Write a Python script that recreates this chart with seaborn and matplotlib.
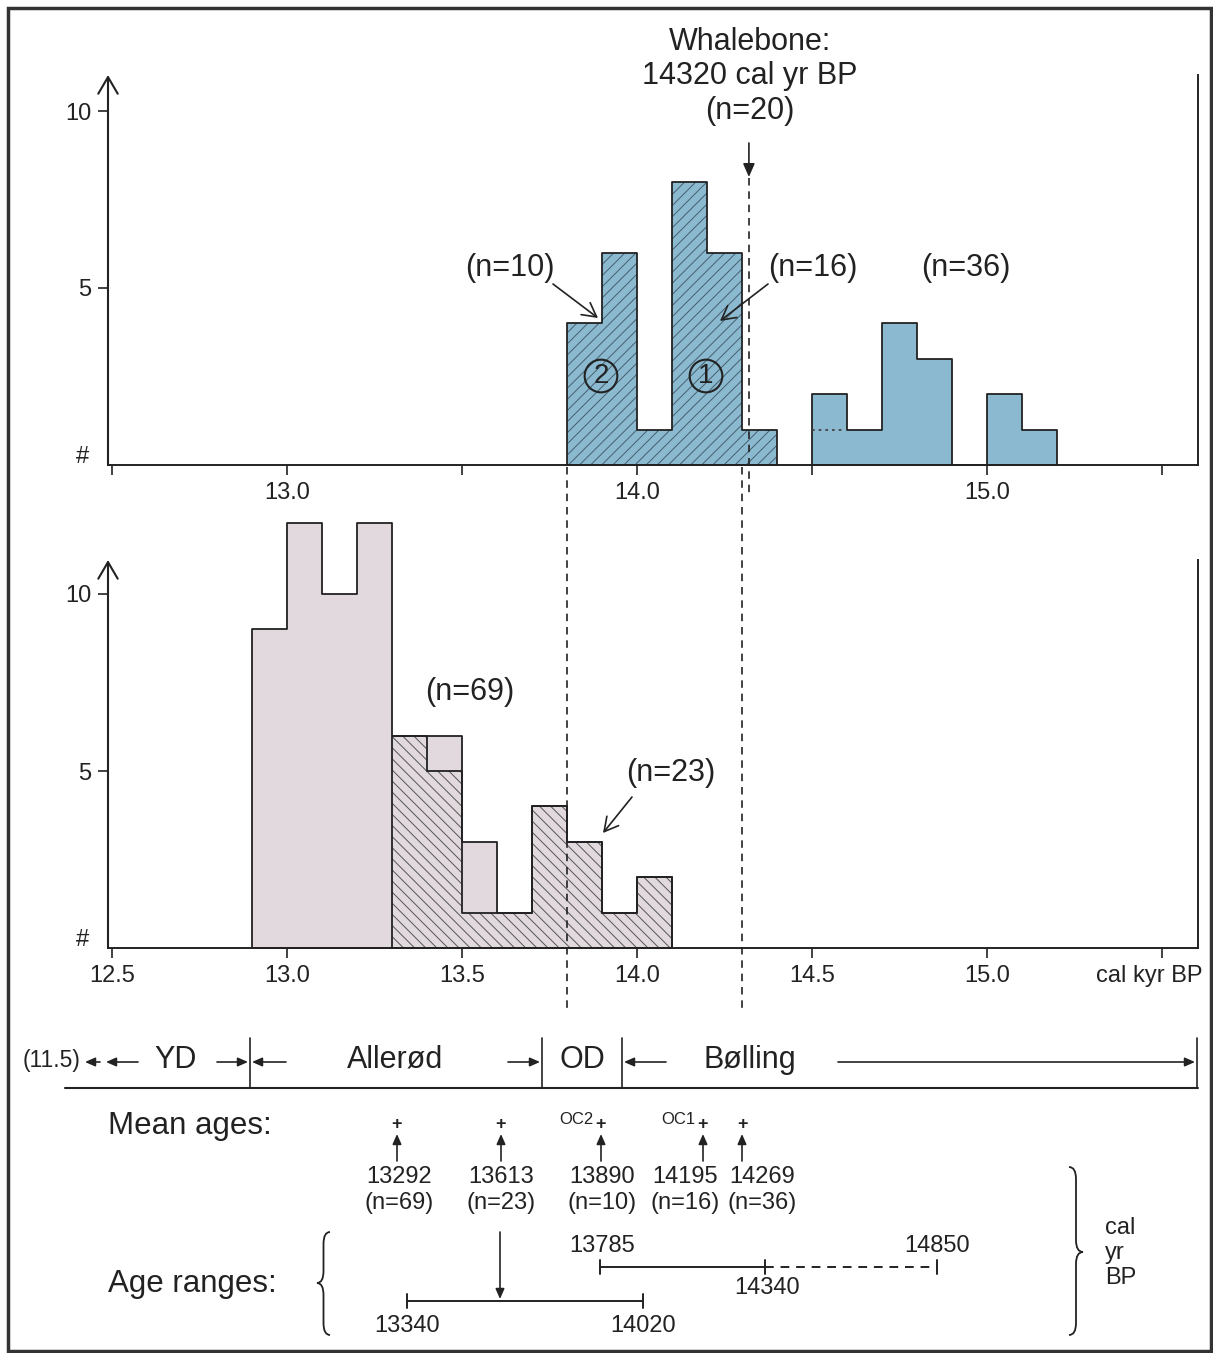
import numpy as np
import pandas as pd
import matplotlib
matplotlib.use("Agg")
import matplotlib.pyplot as plt
import seaborn as sns
from matplotlib.path import Path
from matplotlib.patches import PathPatch, Rectangle
from matplotlib.transforms import blended_transform_factory

# ---------------- data ----------------
top_cluster_edges = [13.8, 13.9, 14.0, 14.1, 14.2, 14.3, 14.4]
top_cluster_counts = [4, 6, 1, 8, 6, 1]
top_other_edges = [14.5, 14.6, 14.7, 14.8, 14.9, 15.0, 15.1, 15.2]
top_other_counts = [2, 1, 4, 3, 0, 2, 1]
top_other_dotted_level = 1

bottom_all_edges = [12.9, 13.0, 13.1, 13.2, 13.3, 13.4, 13.5, 13.6, 13.7, 13.8, 13.9, 14.0, 14.1]
bottom_all_counts = [9, 12, 10, 12, 6, 6, 3, 1, 4, 3, 1, 2]
bottom_sub_edges = [13.3, 13.4, 13.5, 13.6, 13.7, 13.8, 13.9, 14.0, 14.1]
bottom_sub_counts = [6, 5, 1, 1, 4, 3, 1, 2]

x_ticks = [12.5, 13.0, 13.5, 14.0, 14.5, 15.0, 15.5]
top_tick_labels = ["", "13.0", "", "14.0", "", "15.0", ""]
bottom_tick_labels = ["12.5", "13.0", "13.5", "14.0", "14.5", "15.0", ""]
y_ticks = [5, 10]
y_tick_labels = ["5", "10"]

cluster_bounds = [13.8, 14.3]
whalebone_age = 14.32

mean_ages = ["13292", "13613", "13890", "14195", "14269"]
mean_ns = ["(n=69)", "(n=23)", "(n=10)", "(n=16)", "(n=36)"]
mean_tags = ["", "", "OC2", "OC1", ""]
range_a_labels = ["13340", "14020"]
range_b_labels = ["13785", "14340", "14850"]
period_names = ["YD", "Allerød", "OD", "Bølling"]

# ---------------- style ----------------
W, H = 1213, 1353
sns.set_style("ticks")
plt.rcParams["font.family"] = ["Liberation Sans", "DejaVu Sans"]
plt.rcParams["hatch.linewidth"] = 0.7
INK = "#222222"
BLUE = "#8bb9d0"
PINK = "#e1d9de"

fig = plt.figure(figsize=(W / 100, H / 100), dpi=100)
fig.patch.set_facecolor("white")

XL = (12.489, 15.603)
PX = 35.4  # pixels per count

ax_top = fig.add_axes([108 / W, (H - 465) / H, 1090 / W, 390 / H])
ax_bot = fig.add_axes([108 / W, (H - 948) / H, 1090 / W, 388 / H])


def hist_layer(ax, edges, counts, face, edge, lw, hatch=None):
    edges = [float(e) for e in edges]
    centers = [round((a + b) / 2, 3) for a, b in zip(edges[:-1], edges[1:])]
    df = pd.DataFrame({"age": centers, "n": [float(c) for c in counts]})
    kws = dict(facecolor=face, edgecolor=edge, linewidth=lw)
    if hatch:
        kws["hatch"] = hatch
    sns.histplot(data=df, x="age", weights="n", bins=edges, element="step",
                 fill=True, color=edge, ax=ax, **kws)


# top panel
hist_layer(ax_top, top_cluster_edges, top_cluster_counts, BLUE, "#45606e", 0, "///")
hist_layer(ax_top, top_other_edges, top_other_counts, BLUE, BLUE, 0)
hist_layer(ax_top, top_cluster_edges, top_cluster_counts, "none", INK, 1.3)
hist_layer(ax_top, top_other_edges, top_other_counts, "none", INK, 1.3)
ax_top.hlines(top_other_dotted_level, top_other_edges[0], top_other_edges[1] - 0.01,
              colors="#444444", linestyles=(0, (1.5, 2.2)), lw=1.3)

# bottom panel
hist_layer(ax_bot, bottom_all_edges, bottom_all_counts, PINK, PINK, 0)
hist_layer(ax_bot, bottom_sub_edges, bottom_sub_counts, PINK, "#555555", 0, "\\\\\\")
hist_layer(ax_bot, bottom_all_edges, bottom_all_counts, "none", INK, 1.3)
hist_layer(ax_bot, bottom_sub_edges, bottom_sub_counts, "none", INK, 1.3)

for ax, labels, h in [(ax_top, top_tick_labels, 390), (ax_bot, bottom_tick_labels, 388)]:
    for art in ax.collections:
        art.set_clip_on(False)
    ax.set_xlim(*XL)
    ax.set_ylim(0, h / PX)
    ax.set_xticks(x_ticks)
    ax.set_xticklabels(labels)
    ax.set_yticks(y_ticks)
    ax.set_yticklabels(y_tick_labels)
    ax.set_xlabel("")
    ax.set_ylabel("")
    ax.tick_params(axis="both", direction="out", length=7, width=1.2,
                   colors=INK, labelsize=17, pad=5)
    ax.spines["top"].set_visible(False)
    ax.spines["left"].set_visible(False)
    for s in ("bottom", "right"):
        ax.spines[s].set_linewidth(1.4)
        ax.spines[s].set_color(INK)
    ax.patch.set_alpha(0)
    ax.annotate("", xy=(0, 1.0), xytext=(0, 0), xycoords="axes fraction",
                textcoords="axes fraction",
                arrowprops=dict(arrowstyle="->,head_length=0.6,head_width=0.35",
                                lw=1.5, color=INK, shrinkA=0, shrinkB=0,
                                mutation_scale=20), annotation_clip=False)

# ---------------- overlay (pixel coordinates) ----------------
ov = fig.add_axes([0, 0, 1, 1], zorder=5)
ov.set_xlim(0, W)
ov.set_ylim(H, 0)
ov.set_axis_off()

ov.add_patch(Rectangle((8, 8), W - 10, H - 10, fill=False, lw=2.5, ec="#333333"))

T = dict(color=INK, ha="center", va="center")


def arrow(x0, y0, x1, y1, style="-|>,head_length=0.5,head_width=0.22", lw=1.2,
          ms=16, coords="data"):
    ov.annotate("", xy=(x1, y1), xytext=(x0, y0), xycoords=coords, textcoords=coords,
                arrowprops=dict(arrowstyle=style, lw=lw, color=INK, shrinkA=0,
                                shrinkB=0, mutation_scale=ms), annotation_clip=False)


OPEN = "->,head_length=0.55,head_width=0.3"

# whalebone
trans = blended_transform_factory(ax_top.transData, ov.transData)
ov.text(750, 42, "Whalebone:", fontsize=22, **T)
ov.text(750, 76, "14320 cal yr BP", fontsize=22, **T)
ov.text(750, 111, "(n=20)", fontsize=22, **T)
arrow(whalebone_age, 143, whalebone_age, 177, coords=trans)
ov.plot([whalebone_age, whalebone_age], [178, 497], transform=trans, color=INK,
        lw=1.2, ls=(0, (4.5, 3.5)), clip_on=False)
for b in cluster_bounds:
    ov.plot([b, b], [467, 1010], transform=trans, color=INK, lw=1.2,
            ls=(0, (4.5, 3.5)), clip_on=False)

# top annotations
ov.text(510, 268, "(n=10)", fontsize=22, **T)
arrow(553, 284, 598, 318, style=OPEN, ms=18)
ov.text(813, 268, "(n=16)", fontsize=22, **T)
arrow(768, 284, 720, 321, style=OPEN, ms=18)
ov.text(966, 268, "(n=36)", fontsize=22, **T)
for cx, lab in [(601, "2"), (706, "1")]:
    ov.text(cx, 376, lab, fontsize=20, color=INK, ha="center", va="center",
            bbox=dict(boxstyle="circle,pad=0.12", fc="none", ec=INK, lw=1.5))
ov.text(83, 457, "#", fontsize=17, **T)
ov.text(83, 940, "#", fontsize=17, **T)

# bottom annotations
ov.text(470, 692, "(n=69)", fontsize=22, **T)
ov.text(671, 773, "(n=23)", fontsize=22, **T)
arrow(632, 797, 603, 833, style=OPEN, ms=18)
ov.text(1203, 976, "cal kyr BP", fontsize=17, color=INK, ha="right", va="center")

# period bar
ov.plot([65, 1198], [1088, 1088], color=INK, lw=1.5)
for sx in (250, 542, 622, 1197):
    ov.plot([sx, sx], [1038, 1088], color=INK, lw=1.2)
ov.text(52, 1060, "(11.5)", fontsize=16.5, **T)
arrow(100, 1062, 85, 1062, ms=12)
arrow(138, 1062, 106, 1062, ms=12)
ov.text(176, 1060, period_names[0], fontsize=22, **T)
arrow(217, 1062, 248, 1062, ms=12)
arrow(286, 1062, 252, 1062, ms=12)
ov.text(395, 1060, period_names[1], fontsize=22, **T)
arrow(508, 1062, 540, 1062, ms=12)
ov.text(582, 1060, period_names[2], fontsize=22, **T)
arrow(666, 1062, 624, 1062, ms=12)
ov.text(750, 1060, period_names[3], fontsize=22, **T)
arrow(838, 1062, 1195, 1062, ms=12)

# mean ages
ov.text(108, 1126, "Mean ages:", fontsize=22.5, color=INK, ha="left", va="center")
plus_x = [397, 501, 601, 703, 742]
text_x = [399, 501, 602, 685, 762]
for px, tx, val, n, tag in zip(plus_x, text_x, mean_ages, mean_ns, mean_tags):
    ov.text(px, 1124, "+", fontsize=13, fontweight="bold", **T)
    arrow(px, 1161, px, 1134, ms=12)
    ov.text(tx, 1177, val, fontsize=17, **T)
    ov.text(tx, 1203, n, fontsize=17, **T)
    if tag:
        ov.text(px - 8, 1119, tag, fontsize=12, color=INK, ha="right", va="center")

# age ranges
ov.text(108, 1284, "Age ranges:", fontsize=22.5, color=INK, ha="left", va="center")


def brace(x_end, x_tip, y0, y1, ym, r=12):
    xm = (x_end + x_tip) / 2
    verts = [(x_end, y0), (xm, y0), (xm, y0 + r), (xm, ym - r), (xm, ym), (x_tip, ym),
             (xm, ym), (xm, ym + r), (xm, y1 - r), (xm, y1), (x_end, y1)]
    codes = [Path.MOVETO, Path.CURVE3, Path.CURVE3, Path.LINETO, Path.CURVE3, Path.CURVE3,
             Path.CURVE3, Path.CURVE3, Path.LINETO, Path.CURVE3, Path.CURVE3]
    ov.add_patch(PathPatch(Path(verts, codes), fill=False, ec=INK, lw=1.3))


brace(330, 317, 1232, 1335, 1283)
brace(1069, 1083, 1167, 1335, 1252)
for i, w in enumerate(["cal", "yr", "BP"]):
    ov.text(1105, 1228 + 25 * i, w, fontsize=17, color=INK, ha="left", va="center")

ra_x = [407, 643]
ov.plot(ra_x, [1301, 1301], color=INK, lw=1.4)
for xx, lab in zip(ra_x, range_a_labels):
    ov.plot([xx, xx], [1294, 1308], color=INK, lw=1.4)
    ov.text(xx, 1326, lab, fontsize=17, **T)
arrow(500, 1232, 500, 1299, ms=12)

rb_x = [600, 765, 937]
ov.plot(rb_x[:2], [1267, 1267], color=INK, lw=1.4)
ov.plot(rb_x[1:], [1267, 1267], color=INK, lw=1.4, ls=(0, (4.5, 3.5)))
for xx in rb_x:
    ov.plot([xx, xx], [1260, 1274], color=INK, lw=1.4)
ov.text(602, 1246, range_b_labels[0], fontsize=17, **T)
ov.text(767, 1288, range_b_labels[1], fontsize=17, **T)
ov.text(937, 1246, range_b_labels[2], fontsize=17, **T)

fig.savefig("out.png", dpi=100, facecolor="white")
